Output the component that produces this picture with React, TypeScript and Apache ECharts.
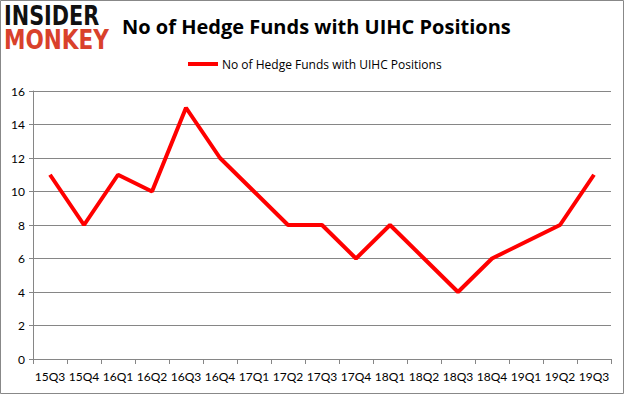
import React, { useEffect, useRef } from "react";
import * as echarts from "echarts";

const categories = ["15Q3","15Q4","16Q1","16Q2","16Q3","16Q4","17Q1","17Q2","17Q3","17Q4","18Q1","18Q2","18Q3","18Q4","19Q1","19Q2","19Q3"];
const hedgeFunds = [11, 8, 11, 10, 15, 12, 10, 8, 8, 6, 8, 6, 4, 6, 7, 8, 11];
const seriesName = "No of Hedge Funds with UIHC Positions";
const titleText = "No of Hedge Funds with UIHC Positions";

export default function App() {
  const ref = useRef<HTMLDivElement>(null);
  useEffect(() => {
    const chart = echarts.init(ref.current!, null, { renderer: "svg" });
    const font = "'Open Sans', 'Noto Sans', sans-serif";
    const axisFont = "Lato, 'Open Sans', sans-serif";
    chart.setOption({
      animation: false,
      backgroundColor: "#fff",
      title: {
        text: titleText,
        left: 117,
        top: 11,
        textStyle: { fontFamily: font, fontSize: 20, fontWeight: "bold", color: "#000" },
      },
      legend: {
        top: 53,
        left: 183,
        icon: "rect",
        itemWidth: 30,
        itemHeight: 4,
        itemGap: 4,
        textStyle: { fontFamily: font, fontSize: 12, color: "#000", padding: [0, 0, 0, -1] },
        data: [seriesName],
      },
      grid: { left: 33, right: 14, top: 91, bottom: 36 },
      xAxis: {
        type: "category",
        data: categories,
        boundaryGap: true,
        axisLine: { lineStyle: { color: "#868686" } },
        axisTick: { show: true, length: 5, lineStyle: { color: "#868686" } },
        axisLabel: { fontFamily: axisFont, fontSize: 12, color: "#000", margin: 11, interval: 0 },
      },
      yAxis: {
        type: "value",
        min: 0,
        max: 16,
        interval: 2,
        axisLine: { show: true, lineStyle: { color: "#868686" } },
        axisTick: { show: true, length: 4, lineStyle: { color: "#868686" } },
        axisLabel: { fontFamily: axisFont, fontSize: 12, color: "#000", margin: 8 },
        splitLine: { lineStyle: { color: "#868686" } },
      },
      series: [
        {
          name: seriesName,
          type: "line",
          data: hedgeFunds,
          symbol: "none",
          lineStyle: { color: "#ff0000", width: 4 },
          itemStyle: { color: "#ff0000" },
        },
      ],
      graphic: [
        { type: "rect", shape: { x: 0.5, y: 0.5, width: 623, height: 393 }, style: { fill: "none", stroke: "#888", lineWidth: 1 }, silent: true },
        { type: "text", x: 4, y: 3, scaleX: 0.8, style: { text: "INSIDER", font: "900 26px 'DejaVu Sans', sans-serif", fill: "#111" } },
        { type: "text", x: 4, y: 27, scaleX: 0.83, style: { text: "MONKEY", font: "900 26px 'DejaVu Sans', sans-serif", fill: "#d9412b" } },
      ],
    });
    return () => chart.dispose();
  }, []);
  return <div ref={ref} style={{ position: "fixed", left: 0, top: 0, width: 625, height: 395 }} />;
}
